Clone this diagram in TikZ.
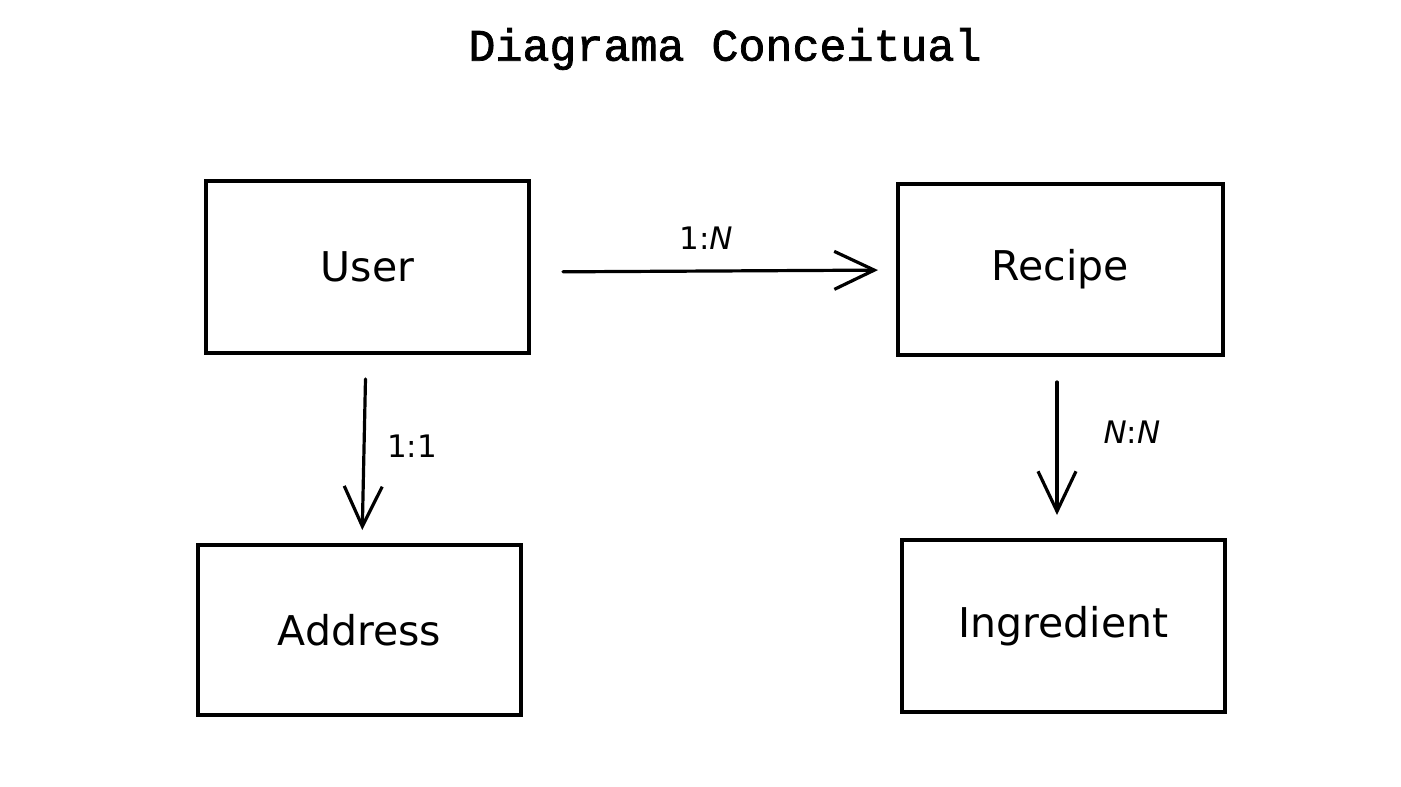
\documentclass[tikz,border=0pt]{standalone}
\usepackage{fontspec}
\setmainfont{DejaVu Sans}
\newfontfamily\titlefont[FakeBold=1.6]{Liberation Mono}
\usetikzlibrary{arrows.meta}
\begin{document}
\begin{tikzpicture}[x=1pt,y=-1pt,
  entity/.style={draw=black,line width=4pt,rectangle,inner sep=0pt,
    font=\fontsize{41}{48}\selectfont},
  rel/.style={draw=black,line width=3.2pt,line cap=round,
    -{Straight Barb[length=40pt,width=38pt,line width=3.2pt]}},
  lbl/.style={font=\fontsize{31}{36}\selectfont,inner sep=0pt}]
\useasboundingbox[fill=white] (0,0) rectangle (1401,787);
\node[font=\titlefont\fontsize{45}{52}\selectfont,inner sep=0pt] (title) at (725,49) {Diagrama Conceitual};
\node[entity,minimum width=323pt,minimum height=172pt] (user) at (367.5,267) {User};
\node[entity,minimum width=325pt,minimum height=171pt] (recipe) at (1060.5,269.5) {Recipe};
\node[entity,minimum width=323pt,minimum height=170pt] (address) at (359.5,630) {Address};
\node[entity,minimum width=323pt,minimum height=172pt] (ingredient) at (1063.5,626) {Ingredient};
\draw[rel,shorten <=32pt,shorten >=18pt] ([yshift=-5pt]user.east) -- ([yshift=-0.5pt]recipe.west);
\draw[rel,shorten <=24pt,shorten >=13pt] ([xshift=-1.5pt]user.south) -- ([xshift=2.5pt]address.north);
\draw[rel,shorten <=25pt,shorten >=23pt] ([xshift=-3.5pt]recipe.south) -- ([xshift=-6.5pt]ingredient.north);
\node[lbl] (l1) at (706,238) {1:\textit{N}};
\node[lbl] (l2) at (412,446) {1:1};
\node[lbl] (l3) at (1132,432) {\textit{N}:\textit{N}};
\end{tikzpicture}
\end{document}
